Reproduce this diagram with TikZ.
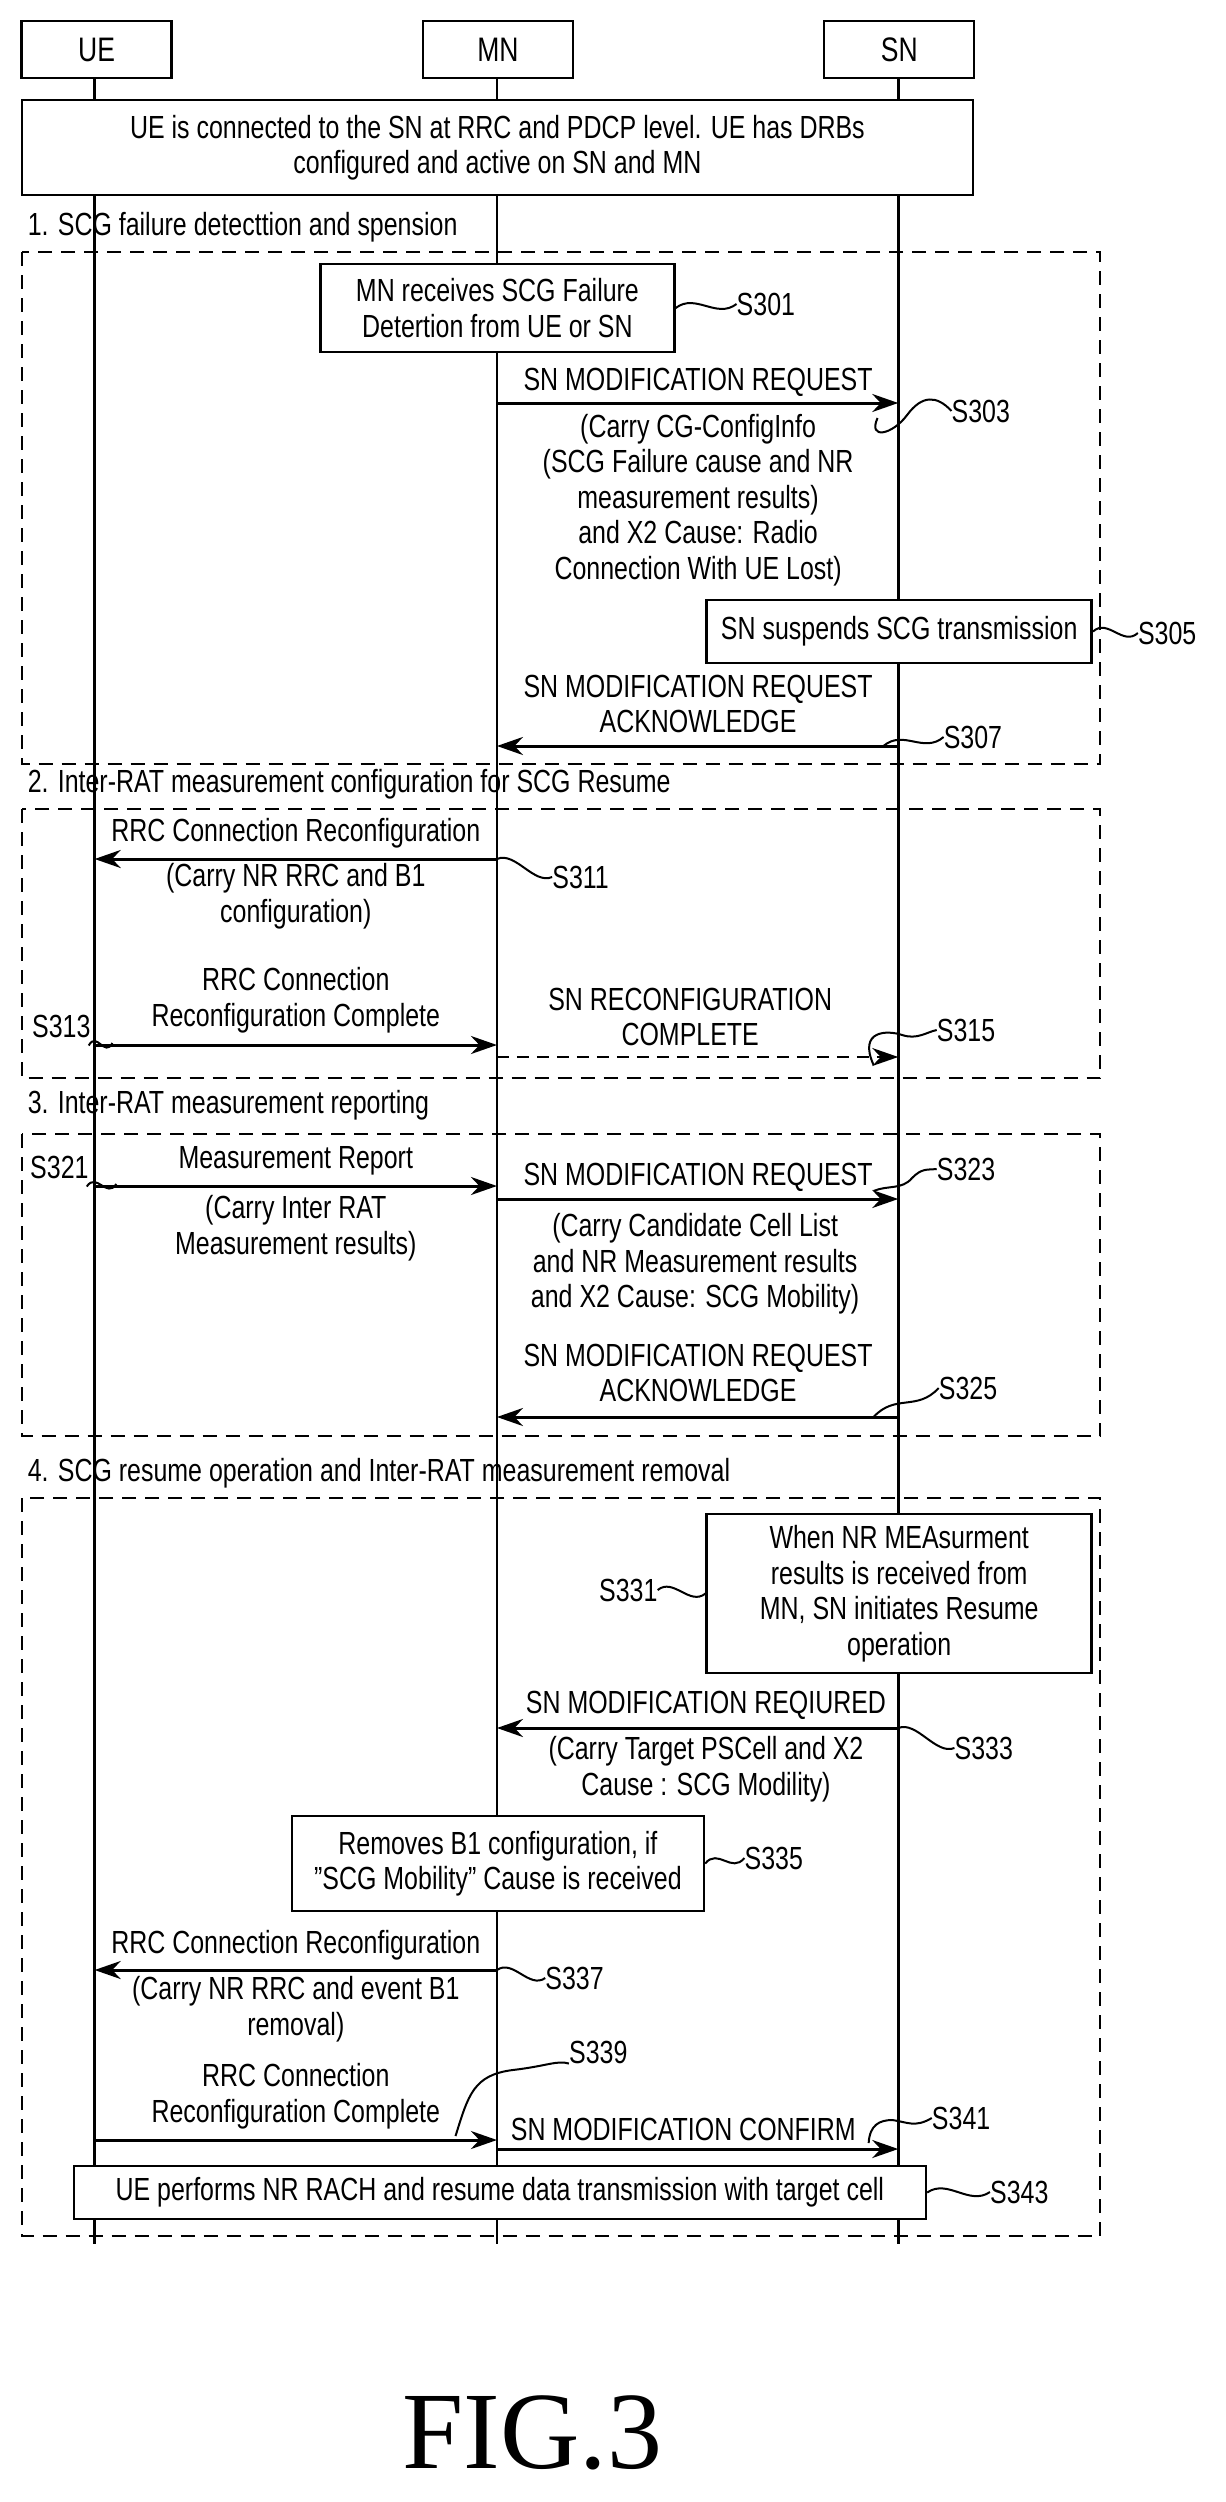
\documentclass[tikz,border=0pt]{standalone}
\usepackage{fontspec}
\setmainfont{Liberation Sans}[FakeStretch=0.78]
\newfontfamily\figfont{Liberation Serif}
\usetikzlibrary{arrows.meta,calc}
\newcommand\fs{\fontsize{32}{35.5}\selectfont}
\newcommand\sqg[2]{\draw[sq] (#1) .. controls ($(#1)!0.33!(#2)+(0,-14)$) and ($(#1)!0.67!(#2)+(0,14)$) .. (#2);}
\begin{document}
\begin{tikzpicture}[x=0.986pt,y=-1pt,
 txt/.style={align=center,font=\fs,inner sep=0},
 box/.style={draw,fill=white,line width=2.5pt,align=center,font=\fs,inner sep=0},
 msg/.style={line width=3pt,-{Stealth[length=26pt,width=18pt]}},
 ll/.style={line width=2.5pt},
 grp/.style={draw,line width=2pt,dash pattern=on 14pt off 9pt},
 sq/.style={line width=2pt}]
\useasboundingbox (0,0) rectangle (1243.4,2502);
% lifelines
\foreach \n/\x in {ue/96,mn/504,sn/911}{
 \coordinate (\n t) at (\x,78); \coordinate (\n b) at (\x,2244);
 \draw[ll] (\n t) -- (\n b);}
% heads
\node[box,minimum width=150,minimum height=57] (UE) at (98,49.5) {\fontsize{34}{36}\selectfont UE};
\node[box,minimum width=150,minimum height=57] (MN) at (505,49.5) {\fontsize{34}{36}\selectfont MN};
\node[box,minimum width=150,minimum height=57] (SN) at (912,49.5) {\fontsize{34}{36}\selectfont SN};
\node[box,minimum width=951,minimum height=95] (top) at (504.5,147.5) {UE is connected to the SN at RRC and PDCP level. UE has DRBs\\configured and active on SN and MN};
% groups
\node[txt,anchor=west] (g1) at (28,227) {1. SCG failure detecttion and spension};
\draw[grp] (22,252) rectangle (1116,764);
\node[txt,anchor=west] (g2) at (28,784) {2. Inter-RAT measurement configuration for SCG Resume};
\draw[grp] (22,809) rectangle (1116,1078);
\node[txt,anchor=west] (g3) at (28,1105) {3. Inter-RAT measurement reporting};
\draw[grp] (22,1134) rectangle (1116,1436);
\node[txt,anchor=west] (g4) at (28,1473) {4. SCG resume operation and Inter-RAT measurement removal};
\draw[grp] (22,1498) rectangle (1116,2236);
% S301
\node[box,minimum width=354,minimum height=88] (b301) at (504.5,308) {MN receives SCG Failure\\Detertion from UE or SN};
\node[txt,anchor=west] (l301) at (747,304) {S301};
\sqg{b301.east}{l301.west}
% S303
\coordinate (a303) at (504,403); \coordinate (e303) at (911,403);
\draw[msg] (a303) -- (e303);
\node[txt] (t303a) at (708,382) {SN MODIFICATION REQUEST};
\node[txt] (t303b) at (708,500) {(Carry CG-ConfigInfo\\(SCG Failure cause and NR\\measurement results)\\and X2 Cause: Radio\\Connection With UE Lost)};
\node[txt,anchor=west] (l303) at (965,411) {S303};
\coordinate (c303) at (890,418);
\draw[sq] (c303) .. controls (880,440) and (905,435) .. (920,415) .. controls (935,395) and (950,395) .. (l303.west);
% S305
\node[box,minimum width=385,minimum height=63] (b305) at (912,631.5) {SN suspends SCG transmission};
\node[txt,anchor=west] (l305) at (1154,633) {S305};
\sqg{b305.east}{l305.west}
% S307
\coordinate (a307) at (911,746); \coordinate (e307) at (504,746);
\draw[msg] (a307) -- (e307);
\node[txt] (t307) at (708,704) {SN MODIFICATION REQUEST\\ACKNOWLEDGE};
\node[txt,anchor=west] (l307) at (957,737) {S307};
\sqg{$(a307)+(-15,0)$}{l307.west}
% S311
\coordinate (a311) at (504,859); \coordinate (e311) at (96,859);
\draw[msg] (a311) -- (e311);
\node[txt] (t311a) at (300,833) {RRC Connection Reconfiguration};
\node[txt] (t311b) at (300,896) {(Carry NR RRC and B1\\configuration)};
\node[txt,anchor=west] (l311) at (560,877) {S311};
\sqg{a311}{l311.west}
% S313
\coordinate (a313) at (96,1045); \coordinate (e313) at (504,1045);
\draw[msg] (a313) -- (e313);
\node[txt] (t313) at (300,1000) {RRC Connection\\Reconfiguration Complete};
\node[txt,anchor=east] (l313) at (92,1026) {S313};
\sqg{$(l313.south east)+(-2,8)$}{$(a313)+(18,-2)$}
% S315
\coordinate (a315) at (504,1057); \coordinate (e315) at (911,1057);
\draw[msg,dash pattern=on 12pt off 8pt,line width=2pt] (a315) -- (e315);
\node[txt] (t315) at (700,1017) {SN RECONFIGURATION\\COMPLETE};
\node[txt,anchor=west] (l315) at (950,1030) {S315};
\draw[sq] ($(e315)+(-25,8)$) .. controls (870,1030) and (900,1030) .. (915,1035) .. controls (930,1040) and (940,1032) .. (l315.west);
% S321
\coordinate (a321) at (96,1186); \coordinate (e321) at (504,1186);
\draw[msg] (a321) -- (e321);
\node[txt] (t321a) at (300,1161) {Measurement Report};
\node[txt] (t321b) at (300,1228) {(Carry Inter RAT\\Measurement results)};
\node[txt,anchor=east] (l321) at (90,1167) {S321};
\sqg{$(l321.south east)+(-2,8)$}{$(a321)+(22,-2)$}
% S323
\coordinate (a323) at (504,1199); \coordinate (e323) at (911,1199);
\draw[msg] (a323) -- (e323);
\node[txt] (t323a) at (708,1177) {SN MODIFICATION REQUEST};
\node[txt] (t323b) at (705,1264) {(Carry Candidate Cell List\\and NR Measurement results\\and X2 Cause: SCG Mobility)};
\node[txt,anchor=west] (l323) at (950,1169) {S323};
\draw[sq] ($(e323)+(-25,-8)$) .. controls (900,1185) and (915,1190) .. (925,1178) .. controls (935,1168) and (940,1170) .. (l323.west);
% S325
\coordinate (a325) at (911,1417); \coordinate (e325) at (504,1417);
\draw[msg] (a325) -- (e325);
\node[txt] (t325) at (708,1373) {SN MODIFICATION REQUEST\\ACKNOWLEDGE};
\node[txt,anchor=west] (l325) at (952,1388) {S325};
\sqg{$(a325)+(-25,0)$}{l325.west}
% S331
\node[box,minimum width=385,minimum height=159] (b331) at (912,1593.5) {When NR MEAsurment\\results is received from\\MN, SN initiates Resume\\operation};
\node[txt,anchor=east] (l331) at (667,1590) {S331};
\sqg{l331.east}{b331.west}
% S333
\coordinate (a333) at (911,1728); \coordinate (e333) at (504,1728);
\draw[msg] (a333) -- (e333);
\node[txt] (t333a) at (716,1705) {SN MODIFICATION REQIURED};
\node[txt] (t333b) at (716,1769) {(Carry Target PSCell and X2\\Cause : SCG Modility)};
\node[txt,anchor=west] (l333) at (968,1748) {S333};
\sqg{a333}{l333.west}
% S335
\node[box,minimum width=412,minimum height=95] (b335) at (505,1863.5) {Removes B1 configuration, if\\"SCG Mobility" Cause is received};
\node[txt,anchor=west] (l335) at (755,1858) {S335};
\sqg{b335.east}{l335.west}
% S337
\coordinate (a337) at (504,1970); \coordinate (e337) at (96,1970);
\draw[msg] (a337) -- (e337);
\node[txt] (t337a) at (300,1945) {RRC Connection Reconfiguration};
\node[txt] (t337b) at (300,2009) {(Carry NR RRC and event B1\\removal)};
\node[txt,anchor=west] (l337) at (553,1978) {S337};
\sqg{a337}{l337.west}
% S339
\coordinate (a339) at (96,2140); \coordinate (e339) at (504,2140);
\draw[msg] (a339) -- (e339);
\node[txt] (t339) at (300,2096) {RRC Connection\\Reconfiguration Complete};
\node[txt,anchor=west] (l339) at (577,2052) {S339};
\draw[sq] (462,2136) .. controls (475,2095) and (480,2075) .. (520,2070) .. controls (555,2066) and (565,2060) .. (l339.south west);
% S341
\coordinate (a341) at (504,2149); \coordinate (e341) at (911,2149);
\draw[msg] (a341) -- (e341);
\node[txt] (t341) at (693,2129) {SN MODIFICATION CONFIRM};
\node[txt,anchor=west] (l341) at (945,2118) {S341};
\draw[sq] ($(e341)+(-30,-6)$) .. controls (882,2125) and (892,2120) .. (905,2120) .. controls (920,2122) and (928,2128) .. (l341.west);
% S343
\node[box,minimum width=852,minimum height=53] (b343) at (507,2192.5) {UE performs NR RACH and resume data transmission with target cell};
\node[txt,anchor=west] (l343) at (1004,2192) {S343};
\sqg{b343.east}{l343.west}
% caption
\node[inner sep=0,font=\figfont\fontsize{110}{110}\selectfont] (fig) at (540,2433) {FIG.3};
\end{tikzpicture}
\end{document}
